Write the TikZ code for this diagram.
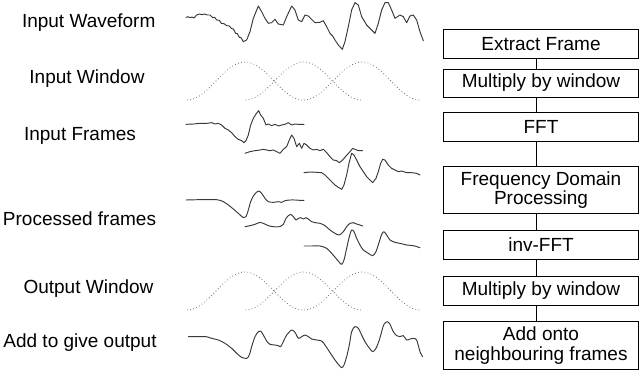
\documentclass[tikz,border=0pt]{standalone}
\usepackage{fontspec}
\setmainfont{Liberation Sans}
\begin{document}
\begin{tikzpicture}[x=1pt,y=-1pt,
  lbl/.style={anchor=base,inner sep=0pt,font=\fontsize{19}{20}\selectfont},
  stepbox/.style={draw=black,line width=0.8pt,rectangle,minimum width=195pt,inner sep=0pt,align=center,font=\fontsize{19}{19.5}\selectfont},
  conn/.style={draw=black,line width=0.6pt},
  wave/.style={draw=black!78,line width=0.95pt,line join=round,line cap=round},
  win/.style={draw=black!55,line width=0.8pt,dash pattern=on 0.8pt off 2.4pt}]
\useasboundingbox (0,0) rectangle (640,370);

% labels
\node[lbl] (l1) at (88.7,27) {Input Waveform};
\node[lbl] (l2) at (87,83) {Input Window};
\node[lbl] (l3) at (80,140) {Input Frames};
\node[lbl] (l4) at (79.5,225) {Processed frames};
\node[lbl] (l5) at (88.5,293.3) {Output Window};
\node[lbl] (l6) at (80,347) {Add to give output};

% boxes
\node[stepbox,minimum height=29pt] (b1) at (541,43.7) {Extract Frame};
\node[stepbox,minimum height=28pt] (b2) at (541,83) {Multiply by window};
\node[stepbox,minimum height=29pt] (b3) at (541,127.2) {FFT};
\node[stepbox,minimum height=47pt] (b4) at (541,190) {Frequency Domain\\Processing};
\node[stepbox,minimum height=29pt] (b5) at (541,244.7) {inv-FFT};
\node[stepbox,minimum height=29pt] (b6) at (541,290.5) {Multiply by window};
\node[stepbox,minimum height=47.5pt] (b7) at (541,345.6) {Add onto\\neighbouring frames};
\foreach \a/\b in {b1/b2,b2/b3,b3/b4,b4/b5,b5/b6,b6/b7}
  \draw[conn] ([xshift=-5pt]\a.south) -- ([xshift=-5pt]\b.north);

% input waveform
\begin{scope}[xshift=180pt,yshift=0pt,x=0.3333pt,y=-0.3333pt]
\draw[wave] (18,52)--(24,50)--(30,53)--(36,51)--(42,54)--(50,45)--(58,42)--(66,44)--(74,42)--(82,45)--(90,45)--(98,53)--(104,52)--(110,60)--(118,61)--(124,70)--(132,71)--(140,77)--(148,78)--(155,86)--(160,87)--(167,100)--(172,101)--(178,112)--(183,113)--(190,125)--(200,120)--(210,95)--(220,55)--(235,18)--(245,35)--(255,55)--(265,70)--(275,68)--(285,58)--(295,72)--(310,75)--(320,50)--(335,18)--(345,30)--(355,60)--(365,65)--(375,45)--(385,48)--(395,58)--(405,68)--(420,67)--(430,62)--(440,80)--(450,100)--(458,108)--(465,120)--(475,135)--(487,148)--(495,125)--(505,80)--(515,30)--(525,8)--(535,15)--(545,50)--(560,75)--(575,90)--(585,100)--(595,70)--(605,30)--(615,8)--(625,8)--(635,30)--(645,55)--(660,45)--(670,50)--(680,68)--(690,48)--(700,45)--(710,60)--(720,95)--(730,122);
\end{scope}

% windows
\foreach \xo in {187,245.5,304}{
  \draw[win] plot[domain=0:180,samples=50] ({\xo+0.644444*\x},{100-38*(sin(\x))^2});
  \draw[win] plot[domain=0:180,samples=50] ({\xo+0.644444*\x},{310-38*(sin(\x))^2});
}

% input frames
\begin{scope}[xshift=180pt,yshift=-110pt,x=0.3333pt,y=-0.3333pt]
\draw[wave] (18,43)--(40,42)--(60,40)--(80,40)--(95,38)--(105,42)--(115,40)--(125,45)--(135,55)--(145,60)--(155,68)--(165,80)--(175,88)--(185,92)--(192,98)--(198,92)--(205,75)--(212,45)--(220,25)--(228,12)--(236,2)--(242,15)--(250,25)--(258,45)--(265,42)--(275,47)--(285,43)--(295,48)--(305,45)--(315,43)--(325,38)--(335,45)--(345,42)--(355,43)--(372,43);
\draw[wave] (195,130)--(210,125)--(225,122)--(240,120)--(250,118)--(260,120)--(270,122)--(280,120)--(290,125)--(300,130)--(310,118)--(320,110)--(328,90)--(335,75)--(342,85)--(350,110)--(358,100)--(365,115)--(372,100)--(380,105)--(390,115)--(400,120)--(410,118)--(420,122)--(430,118)--(440,128)--(450,140)--(460,150)--(470,152)--(478,158)--(488,150)--(498,138)--(510,125)--(518,115)--(525,118)--(535,122)--(548,122);
\draw[wave] (372,188)--(390,186)--(410,187)--(425,188)--(435,195)--(445,205)--(455,215)--(465,225)--(475,232)--(485,238)--(492,225)--(500,195)--(507,160)--(515,130)--(522,135)--(530,150)--(540,170)--(550,185)--(560,200)--(570,210)--(578,218)--(588,205)--(595,185)--(602,160)--(608,148)--(615,150)--(625,165)--(635,175)--(645,180)--(655,185)--(665,183)--(680,188)--(695,188)--(710,190)--(720,195);
\end{scope}

% processed frames
\begin{scope}[xshift=180pt,yshift=-185pt,x=0.3333pt,y=-0.3333pt]
\draw[wave] plot[smooth,tension=0.5] coordinates {(18,45) (60,44) (110,44) (130,50) (145,60) (160,72) (175,85) (190,98) (198,95) (205,75) (212,50) (222,30) (235,18) (245,25) (255,40) (265,50) (280,52) (295,50) (305,52) (315,47) (330,45) (345,45) (360,46) (372,46)};
\draw[wave] plot[smooth,tension=0.5] coordinates {(195,125) (210,122) (225,118) (240,112) (250,115) (265,122) (280,125) (300,125) (310,118) (318,100) (325,92) (332,88) (340,95) (348,105) (355,100) (362,98) (370,102) (378,98) (385,102) (395,110) (405,113) (420,115) (435,122) (450,135) (465,145) (478,150) (490,140) (500,125) (510,115) (520,113) (530,117) (540,120) (548,123)};
\draw[wave] plot[smooth,tension=0.5] coordinates {(372,183) (395,183) (420,183) (440,190) (455,205) (468,220) (478,232) (485,238) (492,225) (500,190) (508,155) (515,135) (522,140) (530,160) (540,180) (550,195) (565,205) (578,212) (588,200) (598,170) (605,148) (612,140) (620,150) (630,165) (645,172) (660,175) (680,180) (700,182) (720,188)};
\end{scope}

% output waveform
\begin{scope}[xshift=180pt,yshift=-315pt,x=0.3333pt,y=-0.3333pt]
\draw[wave] plot[smooth,tension=0.5] coordinates {(25,65) (50,65) (78,65) (95,70) (115,75) (135,85) (155,100) (170,115) (185,127) (200,130) (208,120) (215,95) (225,65) (235,50) (242,48) (250,60) (260,78) (270,88) (285,90) (295,92) (302,95) (310,80) (320,60) (335,45) (345,52) (355,70) (365,65) (375,60) (385,65) (395,72) (410,75) (425,78) (435,90) (445,105) (455,120) (465,135) (475,148) (485,158) (492,150) (500,125) (508,90) (515,50) (525,35) (535,40) (545,60) (555,80) (565,95) (578,110) (588,100) (598,75) (605,50) (612,28) (622,20) (630,28) (640,50) (650,62) (660,65) (670,62) (680,75) (690,72) (700,70) (710,75) (720,110) (728,125)};
\end{scope}
\end{tikzpicture}
\end{document}
